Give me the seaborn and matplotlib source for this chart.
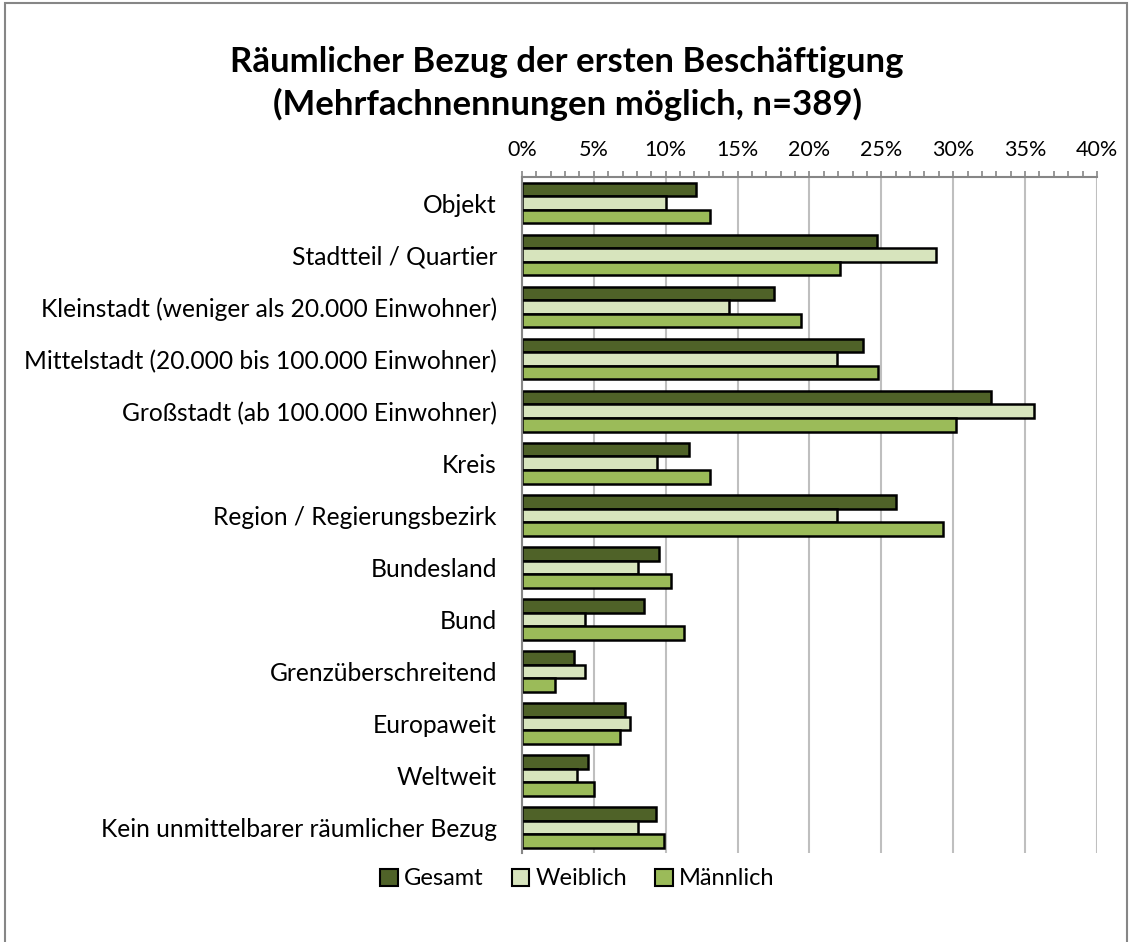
import pandas as pd
import numpy as np
import matplotlib
matplotlib.use("Agg")
import matplotlib.pyplot as plt
import matplotlib.ticker as mtick
from matplotlib.patches import Rectangle
import seaborn as sns

# Daten (Anteile in %)
kategorien = [
    "Objekt",
    "Stadtteil / Quartier",
    "Kleinstadt (weniger als 20.000 Einwohner)",
    "Mittelstadt (20.000 bis 100.000 Einwohner)",
    "Großstadt (ab 100.000 Einwohner)",
    "Kreis",
    "Region / Regierungsbezirk",
    "Bundesland",
    "Bund",
    "Grenzüberschreitend",
    "Europaweit",
    "Weltweit",
    "Kein unmittelbarer räumlicher Bezug",
]
gesamt = [12.1, 24.7, 17.5, 23.7, 32.6, 11.6, 26.0, 9.5, 8.5, 3.6, 7.2, 4.6, 9.3]
weiblich = [10.0, 28.8, 14.4, 21.9, 35.6, 9.4, 21.9, 8.1, 4.4, 4.4, 7.5, 3.8, 8.1]
maennlich = [13.1, 22.1, 19.4, 24.8, 30.2, 13.1, 29.3, 10.4, 11.3, 2.3, 6.8, 5.0, 9.9]
gruppen = ["Gesamt", "Weiblich", "Männlich"]
farben = ["#4F6228", "#D7E4BD", "#9BBB59"]

df = pd.DataFrame({
    "Kategorie": kategorien * 3,
    "Gruppe": [g for g in gruppen for _ in kategorien],
    "Anteil": [v / 100 for v in gesamt + weiblich + maennlich],
})

sns.set_style("white")
plt.rcParams["font.family"] = ["Lato", "DejaVu Sans"]
plt.rcParams["text.color"] = "black"
plt.rcParams["xtick.color"] = "black"
plt.rcParams["ytick.color"] = "black"

fig = plt.figure(figsize=(11.32, 9.42), dpi=100)
ax = fig.add_axes([0.4611, 0.094, 0.5079, 0.718])

sns.barplot(data=df, y="Kategorie", x="Anteil", hue="Gruppe", order=kategorien,
            hue_order=gruppen, palette=farben, saturation=1, orient="h", width=0.78,
            edgecolor="black", linewidth=1.8, ax=ax, legend=False)

ax.set_xlim(0, 0.40)
ax.set_ylim(len(kategorien) - 0.5, -0.5)
ax.xaxis.tick_top()
ax.xaxis.set_label_position("top")
ax.xaxis.set_major_locator(mtick.MultipleLocator(0.05))
ax.xaxis.set_minor_locator(mtick.MultipleLocator(0.01))
ax.xaxis.set_major_formatter(mtick.PercentFormatter(1.0, decimals=0))
ax.tick_params(axis="x", which="both", direction="out", length=4.5, width=1.2,
               color="#868686", labelsize=15.5, pad=8)
ax.set_xlabel("")
ax.set_ylabel("")

# Kategorie-Beschriftungen in der Mitte, Striche an den Grenzen
ax.set_yticks(np.arange(len(kategorien)))
ax.set_yticklabels(kategorien)
ax.set_yticks(np.arange(len(kategorien) + 1) - 0.5, minor=True)
ax.tick_params(axis="y", which="major", length=0, labelsize=17.7, pad=18)
ax.tick_params(axis="y", which="minor", length=7, width=1.2, color="#868686")

ax.grid(axis="x", which="major", color="#BFBFBF", linewidth=1.5)
ax.set_axisbelow(True)
for s in ["right", "bottom"]:
    ax.spines[s].set_visible(False)
for s in ["top", "left"]:
    ax.spines[s].set_color("#868686")
    ax.spines[s].set_linewidth(1.5)

fig.suptitle("Räumlicher Bezug der ersten Beschäftigung\n(Mehrfachnennungen möglich, n=389)",
             x=0.501, y=0.951, fontsize=25, fontweight="bold", linespacing=1.35)

handles = [Rectangle((0, 0), 1, 1, facecolor=c, edgecolor="black", linewidth=1.5) for c in farben]
fig.legend(handles, gruppen, loc="center", bbox_to_anchor=(0.51, 0.067), ncol=3,
           frameon=False, fontsize=17, handlelength=0.75, handleheight=0.75,
           handletextpad=0.25, columnspacing=1.2)

# Rahmen um die Grafik
fig.patches.append(Rectangle((0.004, -0.01), 0.992, 1.007, transform=fig.transFigure,
                             fill=False, edgecolor="#868686", linewidth=1.5))

fig.savefig("out.png", dpi=100)
